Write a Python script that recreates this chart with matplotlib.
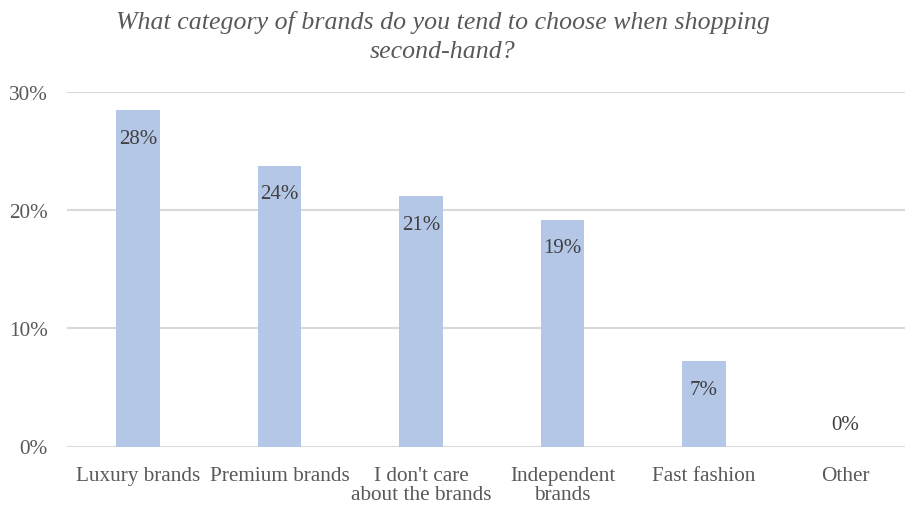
import matplotlib.pyplot as plt

categories = ["Luxury brands", "Premium brands", "I don't care\nabout the brands",
              "Independent\nbrands", "Fast fashion", "Other"]
values = [28.5, 23.8, 21.2, 19.2, 7.2, 0.0]
labels = ["28%", "24%", "21%", "19%", "7%", "0%"]
yticks = [0, 10, 20, 30]

plt.rcParams["font.family"] = ["Liberation Serif", "DejaVu Serif"]

fig = plt.figure(figsize=(9.05, 5.10), dpi=100)
# plot area in figure fractions, right edge runs past the figure like the original
ax = fig.add_axes([67.25 / 905, 1 - 447.5 / 510, 849 / 905, (447.5 - 93.3) / 510])

x = range(len(categories))
ax.bar(x, values, width=0.31, color="#B4C7E7", zorder=3)

for i, (v, lab) in enumerate(zip(values, labels)):
    off = -28 if v > 2 else 22
    ax.annotate(lab, (i, v), xytext=(0, off), textcoords="offset pixels",
                ha="center", va="center", fontsize=15, color="#404040", zorder=4)

ax.set_xlim(-0.5, len(categories) - 0.5)
ax.set_ylim(0, 30)
ax.set_yticks(yticks)
ax.set_yticklabels([f"{t}%" for t in yticks])
ax.set_xticks(list(x))
ax.set_xticklabels(categories, linespacing=1.0)

ax.grid(axis="y", color="#D9D9D9", linewidth=1.5, zorder=0)
for s in ax.spines.values():
    s.set_visible(False)
ax.tick_params(axis="both", length=0, labelsize=15.3, labelcolor="#595959")
ax.tick_params(axis="y", pad=14)
ax.tick_params(axis="x", pad=14)

fig.text(443 / 905, 1 - 37 / 510, "What category of brands do you tend to choose when shopping\nsecond-hand?",
         ha="center", va="center", fontsize=18.6, style="italic", color="#595959",
         linespacing=1.45)

fig.savefig("out.png", dpi=100)
